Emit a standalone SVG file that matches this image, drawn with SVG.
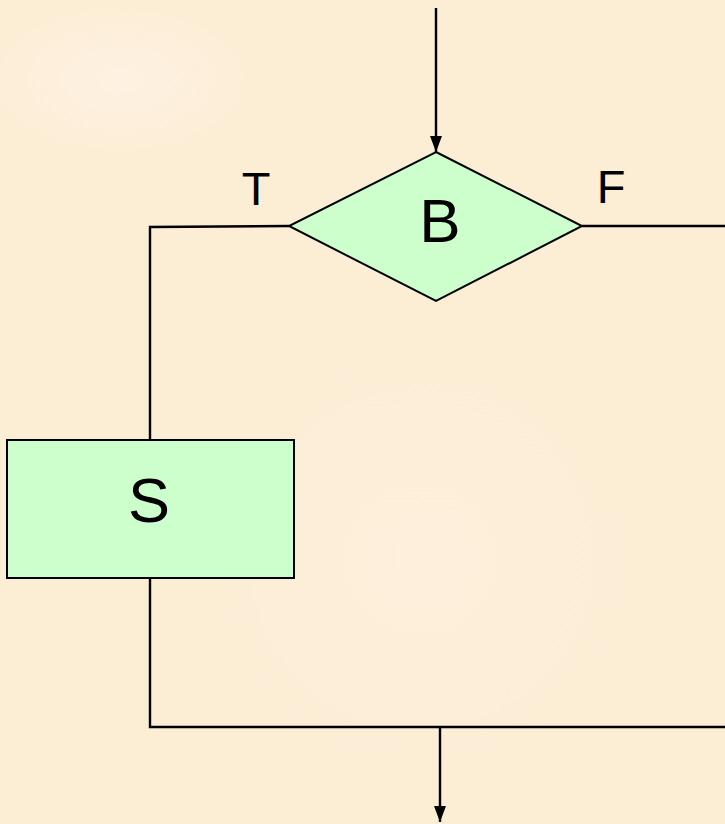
<svg xmlns="http://www.w3.org/2000/svg" width="725" height="824" viewBox="0 0 725 824">
<defs>
<marker id="arr" viewBox="0 0 16 12" refX="16" refY="6" markerWidth="16" markerHeight="12" markerUnits="userSpaceOnUse" orient="auto">
<path d="M0,0 L16,6 L0,12 Z" fill="#000"/>
</marker>
<radialGradient id="glow" cx="0.5" cy="0.5" r="0.5">
<stop offset="0" stop-color="#FEF4EA" stop-opacity="1"/>
<stop offset="1" stop-color="#FEF4EA" stop-opacity="0"/>
</radialGradient>
<style>
.ln{fill:none;stroke:#000;stroke-width:2.4}
.nd{fill:#CCFFCC;stroke:#000;stroke-width:2}
.lbl{font-family:"Liberation Sans",Arial,sans-serif;fill:#000;text-anchor:middle}
</style>
</defs>
<rect width="725" height="824" fill="#FCEDD5"/>
<ellipse cx="120" cy="80" rx="140" ry="80" fill="url(#glow)" opacity="0.6"/>
<ellipse cx="420" cy="560" rx="220" ry="220" fill="url(#glow)" opacity="0.3"/>
<g id="connectors">
<path class="ln" d="M436,8 V152" marker-end="url(#arr)"/>
<path class="ln" d="M289,226 L150,227 V440"/>
<path class="ln" d="M582,226 H725"/>
<path class="ln" d="M150,578 V727 H725"/>
<path class="ln" d="M440,727 V822" marker-end="url(#arr)"/>
</g>
<g id="decision">
<polygon class="nd" points="436,152 582,226 436,301 289,226"/>
<text class="lbl" x="440" y="242" font-size="62">B</text>
</g>
<g id="statement">
<rect class="nd" x="7" y="440" width="287" height="138"/>
<text class="lbl" x="149" y="522" font-size="63">S</text>
</g>
<g id="labels">
<text class="lbl" x="256" y="205" font-size="47">T</text>
<text class="lbl" x="611" y="203" font-size="47">F</text>
</g>
</svg>
